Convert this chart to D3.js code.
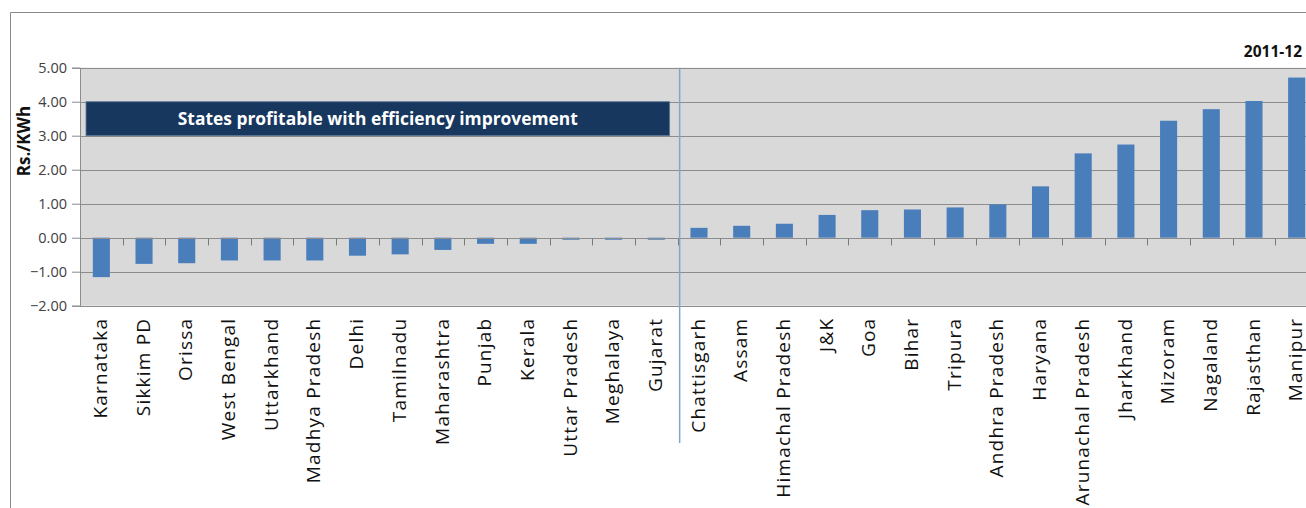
<!DOCTYPE html>
<html>
<head>
<meta charset="utf-8">
<script src="https://cdn.jsdelivr.net/npm/d3@7"></script>
<style>
  html, body { margin: 0; padding: 0; background: #ffffff; }
  svg { display: block; }
  text { font-family: "Open Sans", "DejaVu Sans", sans-serif; }
</style>
</head>
<body>
<svg id="chart" width="1306" height="508"></svg>
<script>
// States ordered by gap (Rs./KWh), 2011-12
const states = [
  "Karnataka", "Sikkim PD", "Orissa", "West Bengal", "Uttarkhand", "Madhya Pradesh",
  "Delhi", "Tamilnadu", "Maharashtra", "Punjab", "Kerala", "Uttar Pradesh",
  "Meghalaya", "Gujarat", "Chattisgarh", "Assam", "Himachal Pradesh", "J&K", "Goa",
  "Bihar", "Tripura", "Andhra Pradesh", "Haryana", "Arunachal Pradesh", "Jharkhand",
  "Mizoram", "Nagaland", "Rajasthan", "Manipur"
];
const gapValues = [
  -1.16, -0.77, -0.75, -0.67, -0.67, -0.67,
  -0.53, -0.49, -0.36, -0.18, -0.18, -0.06,
  -0.06, -0.06, 0.29, 0.35, 0.41, 0.67, 0.81,
  0.83, 0.89, 0.98, 1.51, 2.48, 2.74,
  3.44, 3.78, 4.02, 4.71
];
const yTicks = [5, 4, 3, 2, 1, 0, -1, -2];
const periodLabel = "2011-12";
const yTitle = "Rs./KWh";
const bannerText = "States profitable with efficiency improvement";
const bannerRange = [4, 3];
const firstProfitable = "Chattisgarh";

const svg = d3.select("#chart");

const plot = { left: 80, right: 1318, top: 67.7, bottom: 305.7 };

const x = d3.scaleBand()
  .domain(states)
  .range([plot.left, plot.right])
  .paddingInner(0.6)
  .paddingOuter(0.3);

const y = d3.scaleLinear()
  .domain([-2, 5])
  .range([plot.bottom, plot.top]);

// outer frame
svg.append("path")
  .attr("d", `M10.5,508 L10.5,12.5 L1306,12.5`)
  .attr("fill", "none")
  .attr("stroke", "#8a8a8a")
  .attr("stroke-width", 1);

// plot background
svg.append("rect")
  .attr("x", plot.left)
  .attr("y", plot.top)
  .attr("width", plot.right - plot.left)
  .attr("height", plot.bottom - plot.top)
  .attr("fill", "#d9d9d9");

// value axis with gridlines
const yAxis = svg.append("g")
  .attr("transform", `translate(${plot.left},0)`)
  .call(d3.axisLeft(y).tickValues(yTicks).tickFormat(d3.format(".2f")).tickSize(8).tickPadding(5));
yAxis.select(".domain").attr("stroke", "#8c8c8c");
yAxis.selectAll(".tick line").attr("stroke", "#8c8c8c");
yAxis.selectAll(".tick text")
  .attr("fill", "#404040")
  .style("font-size", "14.5px");

svg.append("g")
  .selectAll("line")
  .data(yTicks)
  .join("line")
  .attr("x1", plot.left)
  .attr("x2", plot.right)
  .attr("y1", d => Math.round(y(d)) + 0.5)
  .attr("y2", d => Math.round(y(d)) + 0.5)
  .attr("stroke", "#8c8c8c")
  .attr("stroke-width", 1.2);

// banner marking the loss-making group
const bannerLeft = plot.left + 6;
const bannerRight = x(firstProfitable) - x.step() * x.paddingInner() / 2 - 8;
svg.append("rect")
  .attr("x", bannerLeft)
  .attr("y", y(bannerRange[0]))
  .attr("width", bannerRight - bannerLeft)
  .attr("height", y(bannerRange[1]) - y(bannerRange[0]))
  .attr("fill", "#17375e")
  .attr("stroke", "#5f7a99")
  .attr("stroke-width", 0.8);
svg.append("text")
  .attr("x", (bannerLeft + bannerRight) / 2)
  .attr("y", (y(bannerRange[0]) + y(bannerRange[1])) / 2)
  .attr("dy", "0.35em")
  .attr("text-anchor", "middle")
  .attr("fill", "#ffffff")
  .style("font-size", "17.4px")
  .style("font-weight", "bold")
  .text(bannerText);

// bars
svg.append("g")
  .selectAll("rect")
  .data(states.map((s, i) => ({ state: s, value: gapValues[i] })))
  .join("rect")
  .attr("x", d => x(d.state))
  .attr("width", x.bandwidth())
  .attr("y", d => y(Math.max(0, d.value)))
  .attr("height", d => Math.abs(y(d.value) - y(0)))
  .attr("fill", "#4a7ebb");

// category axis on the zero line
const xAxis = svg.append("g")
  .attr("transform", `translate(0,${Math.round(y(0)) + 0.5})`);
xAxis.append("line")
  .attr("x1", plot.left)
  .attr("x2", plot.right)
  .attr("stroke", "#8c8c8c")
  .attr("stroke-width", 1.2);
xAxis.selectAll("line.tick")
  .data(states.slice(1))
  .join("line")
  .attr("class", "tick")
  .attr("x1", d => Math.round(x(d) - x.step() * x.paddingInner() / 2) + 0.5)
  .attr("x2", d => Math.round(x(d) - x.step() * x.paddingInner() / 2) + 0.5)
  .attr("y1", 0)
  .attr("y2", 7)
  .attr("stroke", "#7a7a7a");

// category labels below the plot
svg.append("g")
  .selectAll("text")
  .data(states)
  .join("text")
  .attr("transform", d => `translate(${x(d) + x.bandwidth() / 2 - 1},${plot.bottom + 12}) rotate(-90)`)
  .attr("text-anchor", "end")
  .attr("dy", "0.35em")
  .attr("fill", "#111111")
  .style("font-size", "19px")
  .style("letter-spacing", "1.2px")
  .text(d => d);

// separator between the two groups
const sepX = x(firstProfitable) - x.step() * x.paddingInner() / 2 + 2;
svg.append("line")
  .attr("x1", sepX)
  .attr("x2", sepX)
  .attr("y1", plot.top)
  .attr("y2", 443)
  .attr("stroke", "#7ea6cf")
  .attr("stroke-width", 1.5);

// axis title
svg.append("text")
  .attr("transform", `translate(30,141) rotate(-90)`)
  .attr("text-anchor", "middle")
  .attr("fill", "#111111")
  .style("font-size", "17px")
  .style("font-weight", "bold")
  .text(yTitle);

// period label
svg.append("text")
  .attr("x", 1302)
  .attr("y", 57)
  .attr("text-anchor", "end")
  .attr("fill", "#111111")
  .style("font-size", "15.5px")
  .style("font-weight", "bold")
  .text(periodLabel);
</script>
</body>
</html>
